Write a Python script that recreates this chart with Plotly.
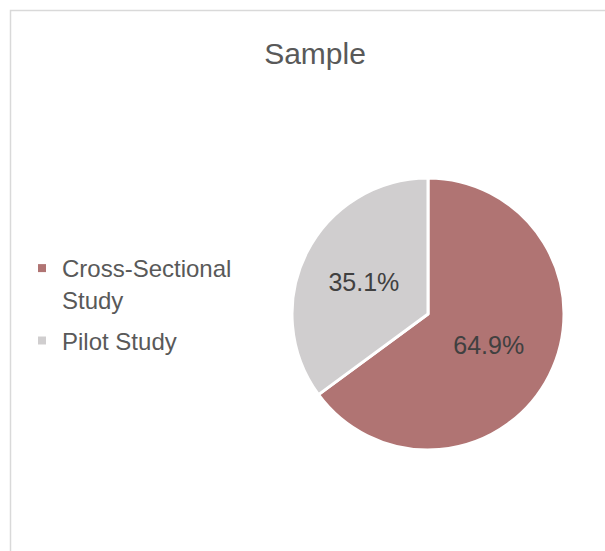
import plotly.graph_objects as go

categories = ["Cross-Sectional Study", "Pilot Study"]
legend_labels = ["Cross-Sectional<br>Study", "Pilot Study"]
values = [64.9, 35.1]
colors = ["#B07473", "#D0CECF"]

W, H = 605, 551
cx, cy, r = 428, 314, 136
FONT = "Liberation Sans, Arial, sans-serif"

fig = go.Figure()
fig.add_trace(go.Pie(
    labels=categories, values=values, sort=False, direction="clockwise", rotation=0,
    marker=dict(colors=colors, line=dict(color="white", width=3)),
    textinfo="percent", texttemplate="%{percent:.1%}", textposition="inside",
    insidetextorientation="horizontal",
    textfont=dict(family=FONT, size=25, color="#404040"),
    showlegend=False, hoverinfo="label+percent",
    domain=dict(x=[(cx - r) / W, (cx + r) / W], y=[(H - cy - r) / H, (H - cy + r) / H]),
))
for i, (lab, col) in enumerate(zip(legend_labels, colors)):
    fig.add_trace(go.Scatter(x=[None], y=[None], mode="markers", name=lab,
                             legendgroup=f"g{i}",
                             marker=dict(symbol="square", size=8, color=col)))

fig.update_layout(
    width=W, height=H, margin=dict(l=0, r=0, t=0, b=0),
    paper_bgcolor="white", plot_bgcolor="white",
    xaxis=dict(visible=False), yaxis=dict(visible=False),
    title=dict(text="Sample", x=315 / W, xanchor="center", y=1 - 53 / H, yanchor="middle",
               font=dict(family=FONT, size=30, color="#595959")),
    legend=dict(x=22 / W, xanchor="left", y=1 - 246 / H, yanchor="top",
                font=dict(family=FONT, size=24, color="#595959"),
                valign="top", bgcolor="rgba(0,0,0,0)", traceorder="grouped", tracegroupgap=7),
    shapes=[dict(type="rect", xref="paper", yref="paper",
                 x0=10.5 / W, x1=1.2, y0=-0.2, y1=1 - 10.5 / H,
                 line=dict(color="#D9D9D9", width=1.5), fillcolor="rgba(0,0,0,0)", layer="below")],
)
fig.write_html("out.html")
